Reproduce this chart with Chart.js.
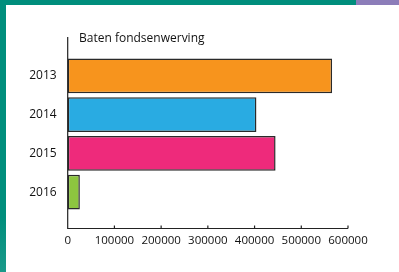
<!DOCTYPE html>
<html>
<head>
<meta charset="utf-8">
<script src="https://cdn.jsdelivr.net/npm/chart.js@4/dist/chart.umd.min.js"></script>
<style>
    html, body { margin: 0; padding: 0; background: #fff; }
    #wrap { position: relative; width: 399px; height: 272px; overflow: hidden; }
    .band-top { position: absolute; left: 0; top: 0; width: 356px; height: 5px; background: #008e7c; }
    .band-purple { position: absolute; left: 356px; top: 0; width: 43px; height: 5px; background: #8c7db9; }
    .band-left { position: absolute; left: 0; top: 0; width: 6px; height: 272px;
        background: linear-gradient(to bottom, #008e7c 80%, #1a9a8a 100%); }
    canvas { position: absolute; left: 0; top: 0; }
</style>
</head>
<body>
<div id="wrap">
    <div class="band-top"></div>
    <div class="band-purple"></div>
    <div class="band-left"></div>
    <canvas id="fundChart" width="399" height="272"></canvas>
</div>
<script>
const chartTitle = 'Baten fondsenwerving';
const years = ['2013', '2014', '2015', '2016'];
const revenue = [566000, 404000, 445000, 26000];
const barColors = ['#f7941d', '#29abe2', '#ee2a7b', '#8dc63f'];
const xTicks = [0, 100000, 200000, 300000, 400000, 500000, 600000];

// Axis lines with small inward ticks, title above the plot
const axisLines = {
    id: 'axisLines',
    afterDraw(chart) {
        const c = chart.ctx;
        const x = chart.scales.x;
        const left = x.getPixelForValue(0);
        const right = x.getPixelForValue(600000);
        const axisY = 228.5;
        c.save();
        c.strokeStyle = '#222';
        c.lineWidth = 1.2;
        c.beginPath();
        c.moveTo(left, 37);
        c.lineTo(left, axisY);
        c.lineTo(right, axisY);
        xTicks.forEach(v => {
            const px = x.getPixelForValue(v);
            c.moveTo(px, axisY);
            c.lineTo(px, axisY - 3);
        });
        c.stroke();
        c.fillStyle = '#111';
        c.font = '12px "Open Sans"';
        c.textBaseline = 'middle';
        c.fillText(chartTitle, 79, 39);
        c.restore();
    }
};

new Chart(document.getElementById('fundChart'), {
    type: 'bar',
    data: {
        labels: years,
        datasets: [{
            data: revenue,
            backgroundColor: barColors,
            borderColor: '#2a2a2a',
            borderWidth: 1.5,
            borderSkipped: false,
            barPercentage: 0.9,
            categoryPercentage: 1
        }]
    },
    options: {
        indexAxis: 'y',
        responsive: false,
        animation: false,
        layout: { padding: { top: 56.5, right: 51, bottom: 0, left: 0 } },
        plugins: {
            legend: { display: false },
            tooltip: { enabled: false }
        },
        scales: {
            x: {
                min: 0,
                max: 600000,
                afterFit: s => { s.height = 60.5; },
                afterBuildTicks: s => { s.ticks = xTicks.map(v => ({ value: v })); },
                grid: { display: false, drawTicks: false },
                border: { display: false },
                ticks: {
                    padding: 22,
                    color: '#111',
                    font: { family: 'Open Sans', size: 11.5 },
                    maxRotation: 0,
                    callback: v => String(v)
                }
            },
            y: {
                afterFit: s => { s.width = 67.7; },
                grid: { display: false, drawTicks: false },
                border: { display: false },
                ticks: {
                    padding: 11,
                    color: '#111',
                    font: { family: 'Open Sans', size: 12 }
                }
            }
        }
    },
    plugins: [axisLines]
});
</script>
</body>
</html>
